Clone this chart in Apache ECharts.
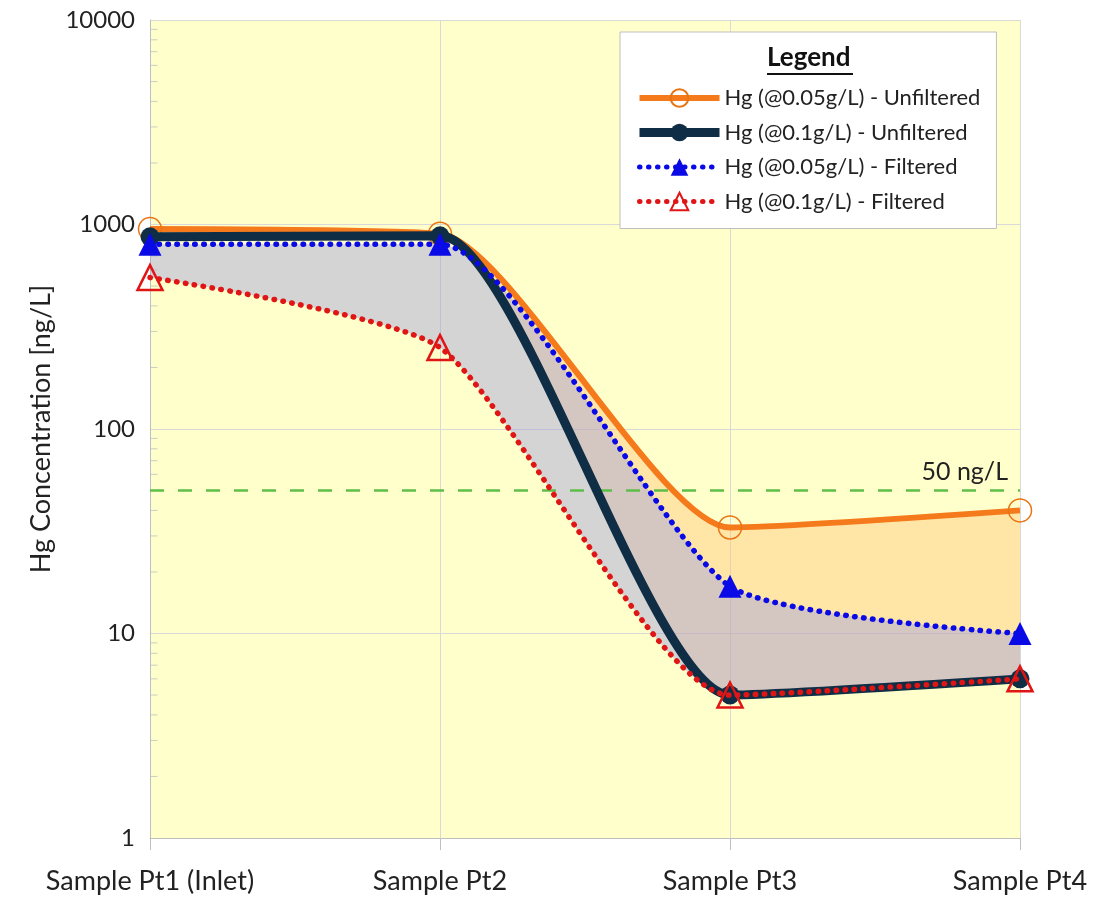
<!DOCTYPE html>
<html>
<head>
<meta charset="utf-8">
<script src="https://cdn.jsdelivr.net/npm/echarts@6/dist/echarts.min.js"></script>
<style>
html,body{margin:0;padding:0;background:#fff;}
#c{width:1114px;height:899px;}
</style>
</head>
<body>
<div id="c"></div>
<script>
const categories = ['Sample Pt1 (Inlet)', 'Sample Pt2', 'Sample Pt3', 'Sample Pt4'];
const unfiltered005 = [950, 900, 33, 40];
const unfiltered01 = [870, 880, 5, 6];
const filtered005 = [800, 800, 17, 10];
const filtered01 = [550, 250, 5, 6];
const threshold = 50;
const minorTickValues = [2,3,4,5,6,7,8,9,20,30,40,50,60,70,80,90,200,300,400,500,600,700,800,900,2000,3000,4000,5000,6000,7000,8000,9000];

const names = ['Hg (@0.05g/L) - Unfiltered','Hg (@0.1g/L) - Unfiltered','Hg (@0.05g/L) - Filtered','Hg (@0.1g/L) - Filtered'];
const SMOOTH = 0.2;
const FONT = 'Lato';

const diffOrange = unfiltered005.map((v,i)=>v - unfiltered01[i]);
const diffGrey = filtered005.map((v,i)=>v - filtered01[i]);

const ORANGE = '#F47A1C', NAVY = '#0F2D44', BLUE = '#0A0AE6', RED = '#E01616';

const chart = echarts.init(document.getElementById('c'), null, {renderer:'canvas'});
chart.setOption({
  animation:false,
  backgroundColor:'#ffffff',
  grid:{left:150, right:94, top:20, bottom:61, show:true, backgroundColor:'#FFFFCC', borderWidth:0},
  xAxis:{
    type:'category', data:categories, boundaryGap:false,
    axisLine:{show:true, lineStyle:{color:'#BFBFBF', width:1}},
    axisTick:{show:true, length:12, lineStyle:{color:'#BFBFBF'}},
    axisLabel:{fontFamily:FONT, fontSize:27, color:'#222', margin:30},
    splitLine:{show:true, lineStyle:{color:'#D9D9D9', width:1}}
  },
  yAxis:{
    type:'log', logBase:10, min:1, max:10000,
    name:'Hg Concentration [ng/L]', nameLocation:'middle', nameGap:92, nameRotate:90,
    nameTextStyle:{fontFamily:FONT, fontSize:27, color:'#222'},
    axisLine:{show:true, lineStyle:{color:'#BFBFBF', width:1}},
    axisTick:{show:false},
    axisLabel:{fontFamily:FONT, fontSize:24, color:'#222', margin:15, formatter:(v)=>String(v)},
    splitLine:{show:true, lineStyle:{color:'#D9D9D9', width:1}}
  },
  legend:{
    orient:'vertical', left:620, top:32,
    data:[
      {name:names[0], lineStyle:{width:6}},
      {name:names[1], lineStyle:{width:9}},
      {name:names[2], lineStyle:{width:5}},
      {name:names[3], lineStyle:{width:5}}
    ],
    backgroundColor:'#ffffff', borderColor:'#BFBFBF', borderWidth:1,
    padding:[55, 16, 16, 15],
    itemWidth:80, itemHeight:22, itemGap:12.5,
    textStyle:{fontFamily:FONT, fontSize:22, color:'#222'}
  },
  graphic:[
    {type:'text', left:767, top:45, z:100, style:{text:'Legend', font:'bold 26px Lato', fill:'#111'}},
    {type:'line', z:100, shape:{x1:767, y1:74, x2:853, y2:74}, style:{stroke:'#111', lineWidth:1.8}}
  ],
  series:[
    {name:'bandBaseA', type:'line', stack:'A', data:unfiltered01, smooth:SMOOTH, symbol:'none', lineStyle:{width:0, opacity:0}, silent:true, z:1},
    {name:'bandA', type:'line', stack:'A', data:diffOrange, smooth:SMOOTH, symbol:'none', lineStyle:{width:0, opacity:0}, areaStyle:{color:'rgba(255,192,114,0.42)', opacity:1}, silent:true, z:1},
    {name:'bandBaseB', type:'line', stack:'B', data:filtered01, smooth:SMOOTH, symbol:'none', lineStyle:{width:0, opacity:0}, silent:true, z:2},
    {name:'bandB', type:'line', stack:'B', data:diffGrey, smooth:SMOOTH, symbol:'none', lineStyle:{width:0, opacity:0}, areaStyle:{color:'rgba(160,160,225,0.45)', opacity:1}, silent:true, z:2},
    {name:'minorTicks', type:'scatter', data:minorTickValues.map(v=>[0,v]), symbol:'rect', symbolSize:[7,1], symbolOffset:[4,0], itemStyle:{color:'#BFBFBF'}, silent:true, z:3},
    {name:names[1], type:'line', data:unfiltered01, smooth:SMOOTH, z:5,
      lineStyle:{color:NAVY, width:9}, symbol:'circle', symbolSize:19,
      itemStyle:{color:NAVY}},
    {name:names[0], type:'line', data:unfiltered005, smooth:SMOOTH, z:4,
      lineStyle:{color:ORANGE, width:6}, symbol:'circle', symbolSize:23,
      itemStyle:{color:'rgba(0,0,0,0)', borderColor:'#E87412', borderWidth:1.5},
      markLine:{silent:true, symbol:'none', data:[{yAxis:threshold}],
        lineStyle:{color:'#5DBE4A', type:[14,14], width:2.5},
        label:{show:true, position:'insideEndTop', formatter:'50 ng/L', fontFamily:FONT, fontSize:25, color:'#222', distance:[12,6]}}},
    {name:names[2], type:'line', data:filtered005, smooth:SMOOTH, z:6,
      lineStyle:{color:BLUE, width:5.5, type:[0.5,8.5], cap:'round'}, symbol:'triangle', symbolSize:23,
      itemStyle:{color:BLUE}},
    {name:names[3], type:'line', data:filtered01, smooth:SMOOTH, z:7,
      lineStyle:{color:RED, width:5.5, type:[0.5,8.5], cap:'round'}, symbol:'triangle', symbolSize:25,
      itemStyle:{color:'rgba(0,0,0,0)', borderColor:RED, borderWidth:2.5}}
  ]
});
</script>
</body>
</html>
